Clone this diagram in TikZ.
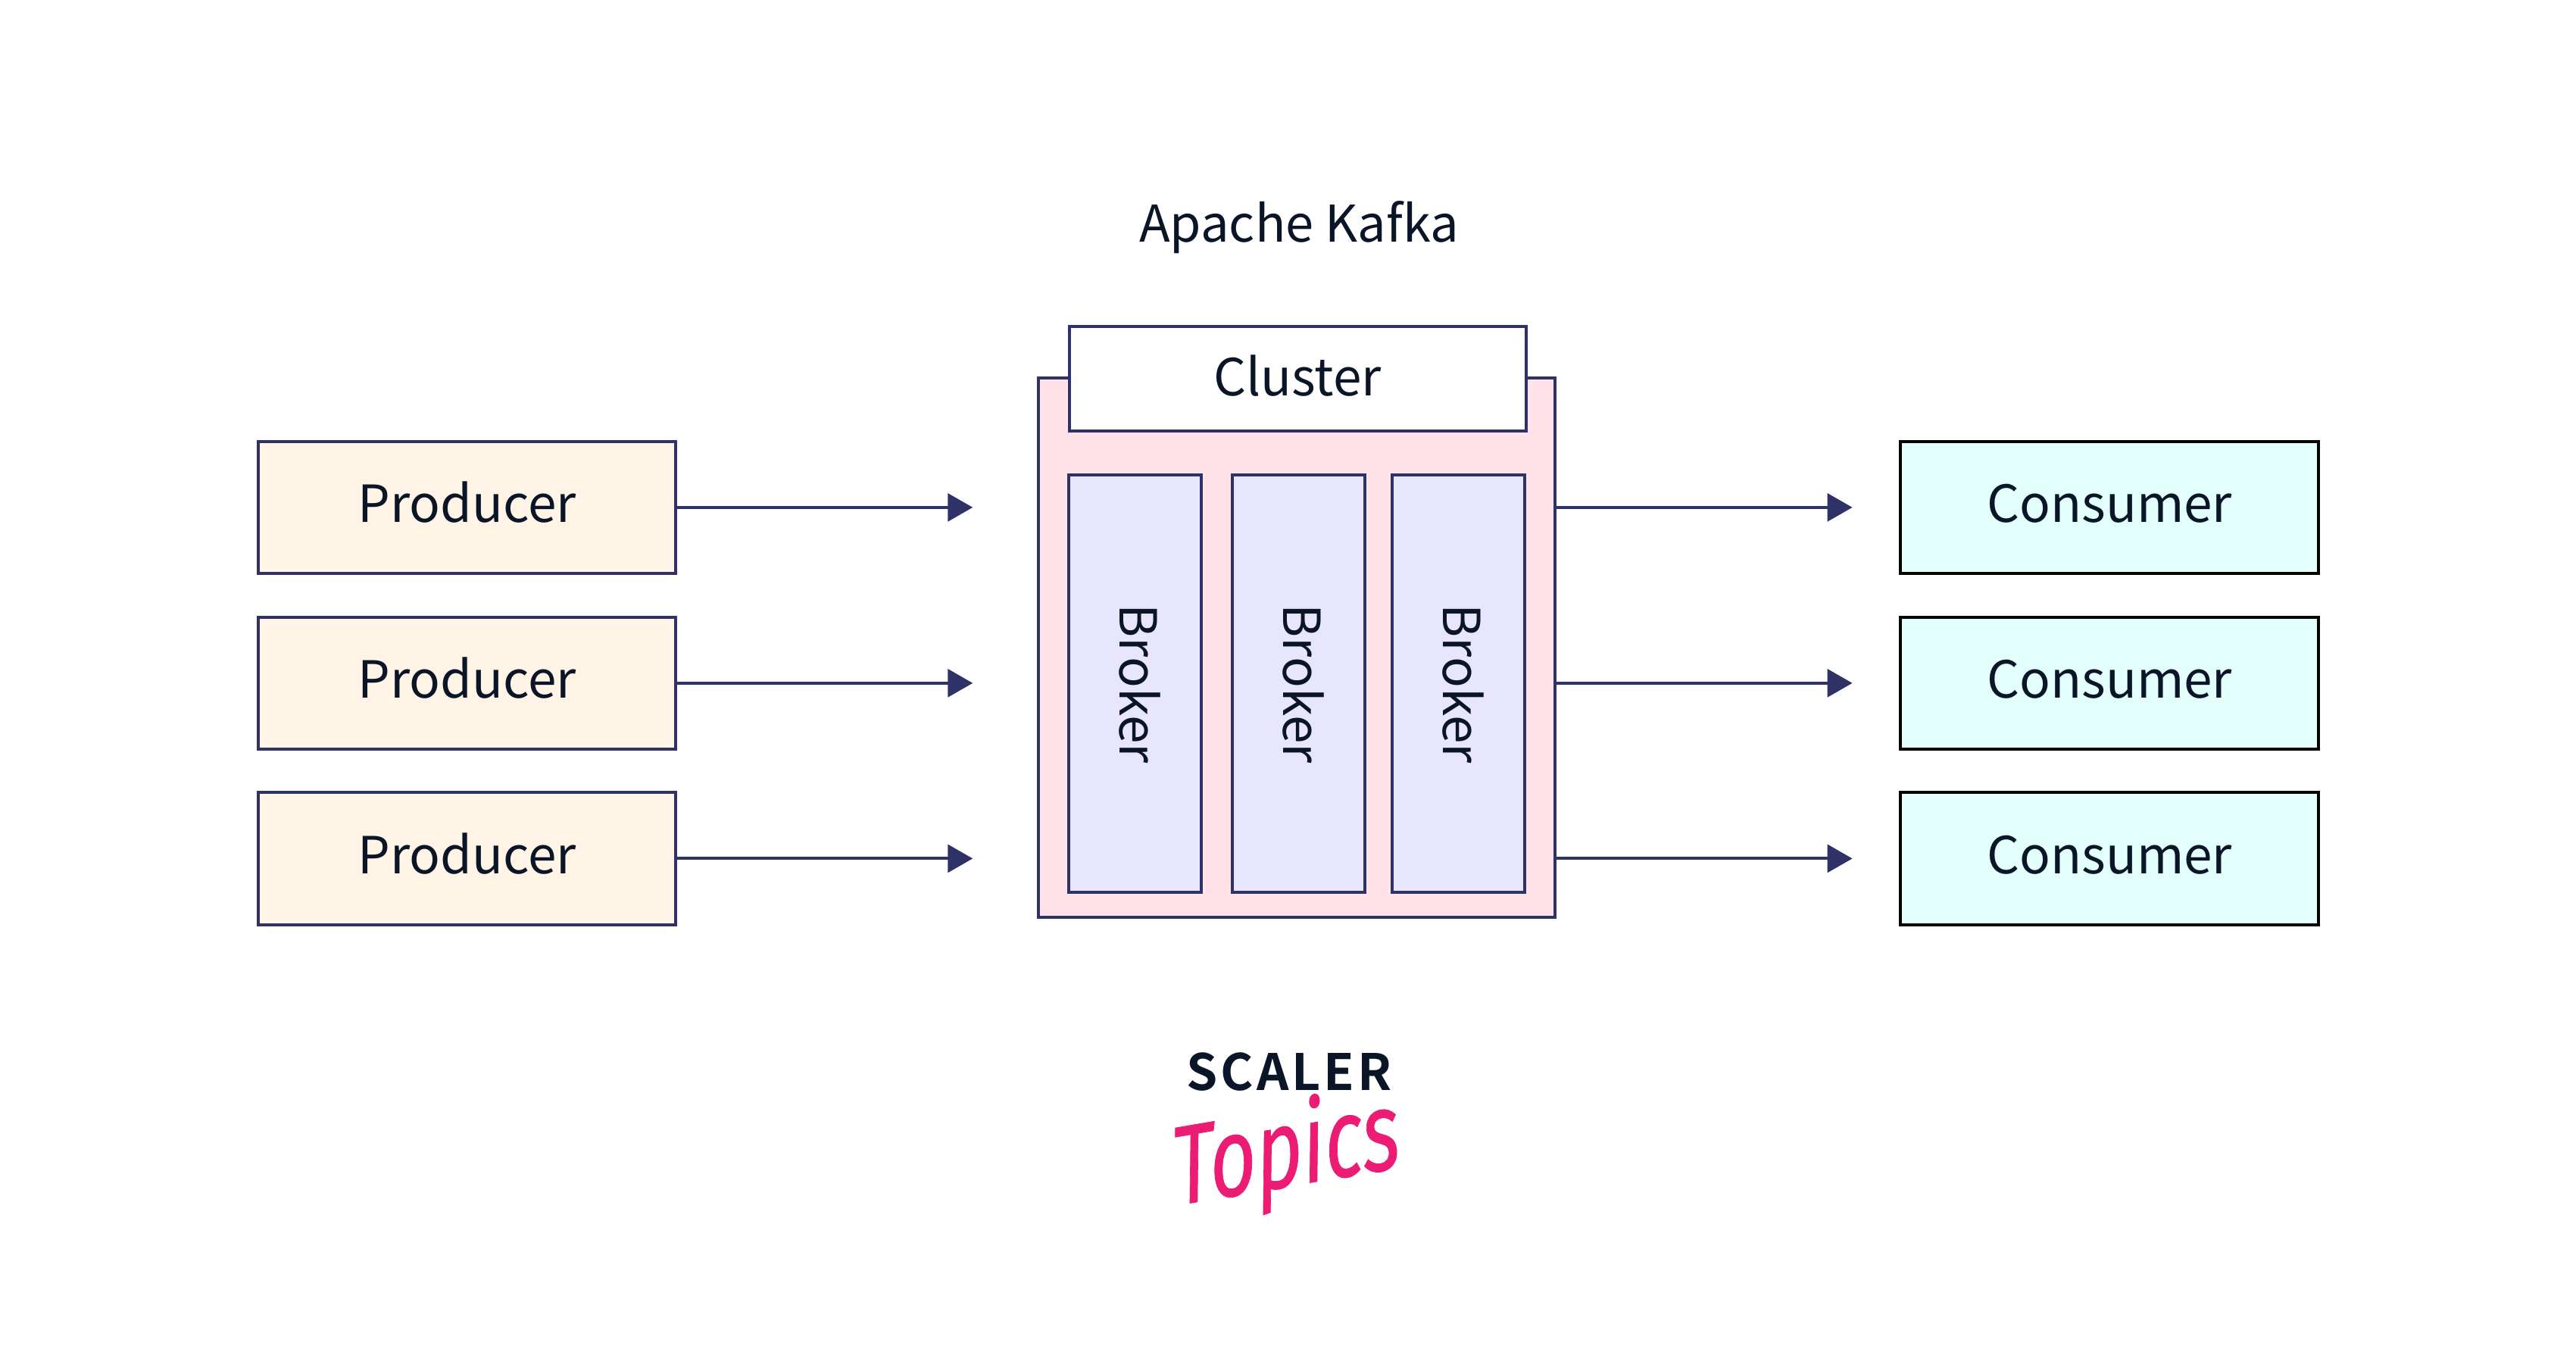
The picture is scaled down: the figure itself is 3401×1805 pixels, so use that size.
\documentclass[tikz,border=0pt]{standalone}
\usepackage{fontspec}
\usetikzlibrary{arrows.meta}
\setmainfont{Noto Sans CJK SC}
\newfontfamily\logofont{Noto Sans CJK SC}[BoldFont={Noto Sans CJK SC Bold},LetterSpace=6]
\newfontfamily\topicsfont{Fira Sans}[FakeBold=0.6]
\definecolor{navy}{HTML}{2E3267}
\definecolor{ink}{HTML}{0B1528}
\definecolor{pinkfill}{HTML}{FFE3E8}
\definecolor{brokerfill}{HTML}{E7E6FD}
\definecolor{prodfill}{HTML}{FFF4E6}
\definecolor{consfill}{HTML}{E2FFFB}
\definecolor{logopink}{HTML}{EC1C74}
\tikzset{
  box/.style={draw=navy,line width=0.04cm,rectangle,inner sep=0pt,text=ink,
    font=\fontsize{19.2pt}{24pt}\selectfont,text height=0.7cm,text depth=0.3cm,align=center},
  producer/.style={box,fill=prodfill,minimum width=5.51cm,minimum height=1.745cm},
  consumer/.style={box,draw=black,fill=consfill,minimum width=5.52cm,minimum height=1.745cm},
  broker/.style={box,fill=brokerfill,rotate=-90,minimum width=5.51cm,minimum height=1.75cm},
  flow/.style={draw=navy,line width=0.04cm,-{Triangle[length=0.33cm,width=0.367cm]}},
}
\begin{document}
\begin{tikzpicture}[x=0.01cm,y=-0.01cm]
\useasboundingbox (0,0) rectangle (3401,1805);
\node[box,fill=pinkfill,minimum width=6.82cm,minimum height=7.116cm,text height=0pt,text depth=0pt] (kafka) at (1712.25,855.2) {};
\node[box,fill=white,minimum width=6.03cm,minimum height=1.383cm,text height=0.76cm] (cluster) at (1713.2,499.85) {Cluster};
\node[broker] (b1) at (1498.75,902.5) {Broker};
\node[broker] (b2) at (1714.7,902.5) {Broker};
\node[broker] (b3) at (1925.4,902.5) {Broker};
\node[producer] (p1) at (616.5,669.85) {Producer};
\node[producer] (p2) at (616.5,901.8) {Producer};
\node[producer] (p3) at (616.5,1133.4) {Producer};
\node[consumer] (c1) at (2785.2,669.8) {Consumer};
\node[consumer] (c2) at (2785.2,901.8) {Consumer};
\node[consumer] (c3) at (2785.2,1133.4) {Consumer};
\coordinate (a1) at (1284.3,669.85);
\coordinate (a2) at (1284.3,901.8);
\coordinate (a3) at (1284.3,1133.4);
\coordinate (d1) at (2445.6,669.85);
\coordinate (d2) at (2445.6,901.8);
\coordinate (d3) at (2445.6,1133.4);
\draw[flow] (p1.east) -- (a1);
\draw[flow] (p2.east) -- (a2);
\draw[flow] (p3.east) -- (a3);
\draw[flow] (kafka.east |- d1) -- (d1);
\draw[flow] (kafka.east |- d2) -- (d2);
\draw[flow] (kafka.east |- d3) -- (d3);
\node[text=ink,font=\fontsize{19pt}{24pt}\selectfont,inner sep=0pt,anchor=base] (title) at (1715,319) {Apache Kafka};
\node[text=ink,font=\logofont\bfseries\fontsize{18.8pt}{24pt}\selectfont,inner sep=0pt,anchor=base] (scaler) at (1702,1439) {SCALER};
\node[text=logopink,font=\topicsfont\itshape\fontsize{42pt}{50pt}\selectfont,inner sep=0pt,anchor=base,xscale=0.72,rotate=7] (topics) at (1702,1566) {Topics};
\end{tikzpicture}
\end{document}
